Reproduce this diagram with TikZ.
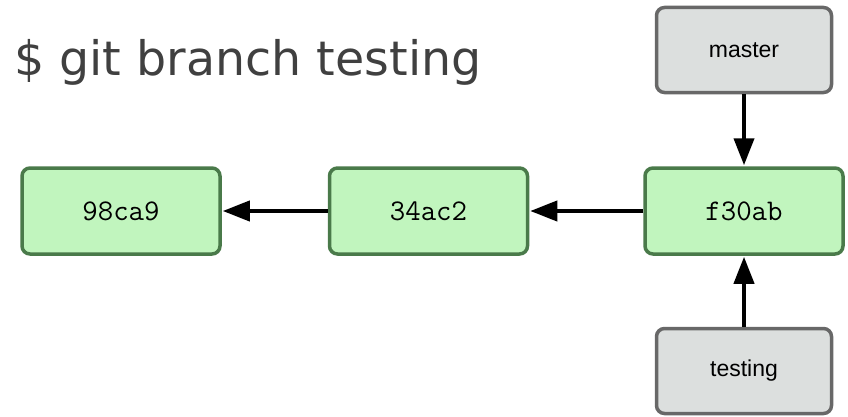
\documentclass[tikz,border=0pt]{standalone}
\usepackage{fontspec}
\usetikzlibrary{arrows.meta}
\newfontfamily\titlefont{DejaVu Sans}
\newfontfamily\labelfont{Liberation Sans}
\definecolor{commitfill}{HTML}{C1F5BE}
\definecolor{commitdraw}{HTML}{4A7A4A}
\definecolor{branchfill}{HTML}{DCDFDE}
\definecolor{branchdraw}{HTML}{686868}
\definecolor{titlegray}{HTML}{404040}
\tikzset{
  commit/.style={draw=commitdraw, fill=commitfill, line width=3.5pt, rounded corners=8pt,
    minimum width=198pt, minimum height=86pt, inner sep=0pt,
    font=\fontsize{30}{32}\selectfont\ttfamily},
  branchbox/.style={draw=branchdraw, fill=branchfill, line width=3.5pt, rounded corners=8pt,
    minimum width=175pt, minimum height=85pt, inner sep=0pt,
    font=\labelfont\fontsize{23}{25}\selectfont},
  ptr/.style={line width=4pt, -{Triangle[length=27pt,width=20pt]}, shorten >=1pt}
}
\begin{document}
\begin{tikzpicture}[x=1pt,y=1pt]
\useasboundingbox (0,0) rectangle (848,416);
\node[anchor=base west, text=titlegray, font=\titlefont\fontsize{47.5}{52}\selectfont, inner sep=0pt] (title) at (14,341) {\$ git branch testing};
\node[commit] (c1) at (121,205) {98ca9};
\node[commit] (c2) at (428.5,205) {34ac2};
\node[commit] (c3) at (744,205) {f30ab};
\node[branchbox] (master) at (744,366) {master};
\node[branchbox] (testing) at (744,45) {testing};
\draw[ptr] (c2) -- (c1);
\draw[ptr] (c3) -- (c2);
\draw[ptr] (master) -- (c3);
\draw[ptr] (testing) -- (c3);
\end{tikzpicture}
\end{document}
